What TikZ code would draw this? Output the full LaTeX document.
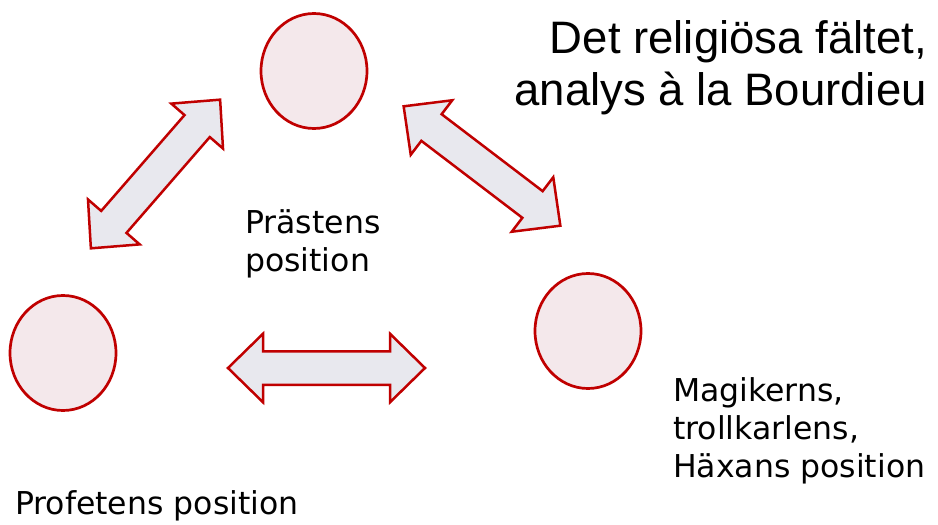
\documentclass[tikz,border=0pt]{standalone}
\usepackage{fontspec}
\setmainfont{DejaVu Sans}
\newfontfamily\titlefont{Liberation Sans}
\usetikzlibrary{shapes.geometric}
\definecolor{posred}{RGB}{192,0,0}
\definecolor{posfill}{RGB}{244,232,235}
\definecolor{arrfill}{RGB}{232,232,238}

% fat double arrow, centred at the origin, pointing along x
\tikzset{
  fatarrow/.pic={
    \draw[blockarr] (-98.5,0) -- (-63.5,-34.25) -- (-63.5,-16.75) -- (63.5,-16.75)
      -- (63.5,-34.25) -- (98.5,0) -- (63.5,34.25) -- (63.5,16.75)
      -- (-63.5,16.75) -- (-63.5,34.25) -- cycle;
  }
}

\begin{document}
\begin{tikzpicture}[
    x=1pt, y=-1pt,
    posring/.style  = {ellipse, draw=posred, fill=posfill, line width=2.7pt,
                       minimum width=106pt, minimum height=115pt, inner sep=0pt},
    blockarr/.style = {draw=posred, fill=arrfill, line width=2.5pt, line join=miter},
    lbl/.style      = {font=\fontsize{31.5}{38}\selectfont, align=left, inner sep=0pt,
                       anchor=north west},
    ttl/.style      = {font=\titlefont\fontsize{45.5}{52}\selectfont, align=right,
                       inner sep=0pt, anchor=north east},
]
\useasboundingbox (0,0) rectangle (938,525);

% ---- the three positions ---------------------------------------------------
\node[posring] (praestpos)  at (314,71)  {};
\node[posring] (profetpos)  at (63,353)  {};
\node[posring] (magikerpos) at (588,331) {};

% ---- block arrows between them ---------------------------------------------
\pic[rotate=49]    at (155.5,174) {fatarrow};
\pic[rotate=-37.3] at (482,166)   {fatarrow};
\pic               at (326.5,368) {fatarrow};

% ---- labels ------------------------------------------------------------------
\node[ttl] (title)   at (927,20)  {Det religiösa fältet,\\analys à la Bourdieu};
\node[lbl] (praest)  at (245,209) {Prästens\\position};
\node[lbl] (magiker) at (673,377) {Magikerns,\\trollkarlens,\\Häxans position};
\node[lbl] (profet)  at (15,490)  {Profetens position};
\end{tikzpicture}
\end{document}
